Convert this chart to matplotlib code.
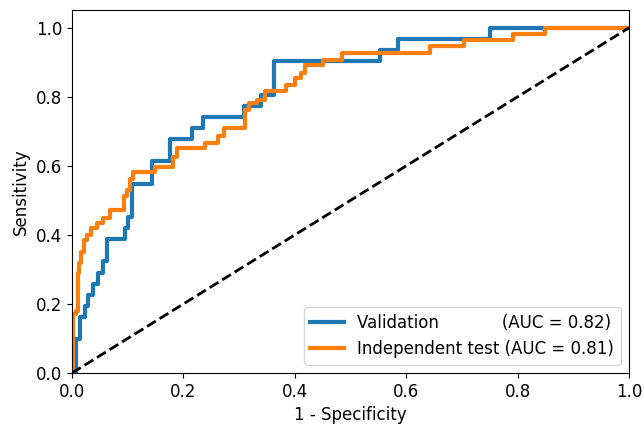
import matplotlib

matplotlib.use('Agg')

import matplotlib.pyplot as plt


# ROC corner points (steps-post: go right, then up)
VAL_FPR = [0, 0.007, 0.015, 0.023, 0.029, 0.038, 0.047, 0.055, 0.063, 0.095,
           0.100, 0.107, 0.143, 0.176, 0.215, 0.235, 0.309, 0.340, 0.363,
           0.553, 0.585, 0.750, 1.0]
VAL_TPR = [0, 0.097, 0.161, 0.194, 0.226, 0.258, 0.290, 0.323, 0.387, 0.419,
           0.452, 0.548, 0.613, 0.677, 0.710, 0.742, 0.774, 0.806, 0.903,
           0.935, 0.968, 1.0, 1.0]
VAL_AUC = 0.82

TEST_FPR = [0, 0.002, 0.007, 0.010, 0.013, 0.017, 0.021, 0.027, 0.035, 0.045,
            0.055, 0.068, 0.093, 0.098, 0.104, 0.110, 0.149, 0.182, 0.188,
            0.239, 0.262, 0.272, 0.311, 0.317, 0.332, 0.347, 0.385, 0.400,
            0.412, 0.418, 0.451, 0.484, 0.643, 0.703, 0.792, 0.849, 1.0]
TEST_TPR = [0, 0.170, 0.180, 0.290, 0.320, 0.350, 0.386, 0.400, 0.420, 0.434,
            0.450, 0.472, 0.512, 0.530, 0.562, 0.583, 0.598, 0.627, 0.651,
            0.666, 0.686, 0.709, 0.762, 0.782, 0.791, 0.817, 0.835, 0.854,
            0.870, 0.893, 0.907, 0.927, 0.946, 0.965, 0.981, 1.0, 1.0]
TEST_AUC = 0.81

OUT_PATH = 'out.png'
DPI = 100

plt.rcParams['font.size'] = 12


def plot_roc():
    fig = plt.figure(figsize=(644 / DPI, 425 / DPI), dpi=DPI)
    ax = fig.add_axes([0.1118, 0.1224, 0.8649, 0.8529])

    ax.plot(
        VAL_FPR,
        VAL_TPR,
        drawstyle='steps-post',
        color='#1f77b4',
        linewidth=3,
        label='Validation' + ' ' * 12 + f'(AUC = {VAL_AUC:.2f})',
    )
    ax.plot(
        TEST_FPR,
        TEST_TPR,
        drawstyle='steps-post',
        color='#ff7f0e',
        linewidth=3,
        label=f'Independent test (AUC = {TEST_AUC:.2f})',
    )
    ax.plot([0, 1], [0, 1], 'k--', linewidth=2)

    ax.set_xlim(0, 1)
    ax.set_ylim(0, 1.05)
    ax.set_xlabel('1 - Specificity')
    ax.set_ylabel('Sensitivity')
    ax.legend(loc='lower right')

    fig.savefig(OUT_PATH, dpi=DPI)
    plt.close(fig)


def main():
    plot_roc()


if __name__ == '__main__':
    main()
